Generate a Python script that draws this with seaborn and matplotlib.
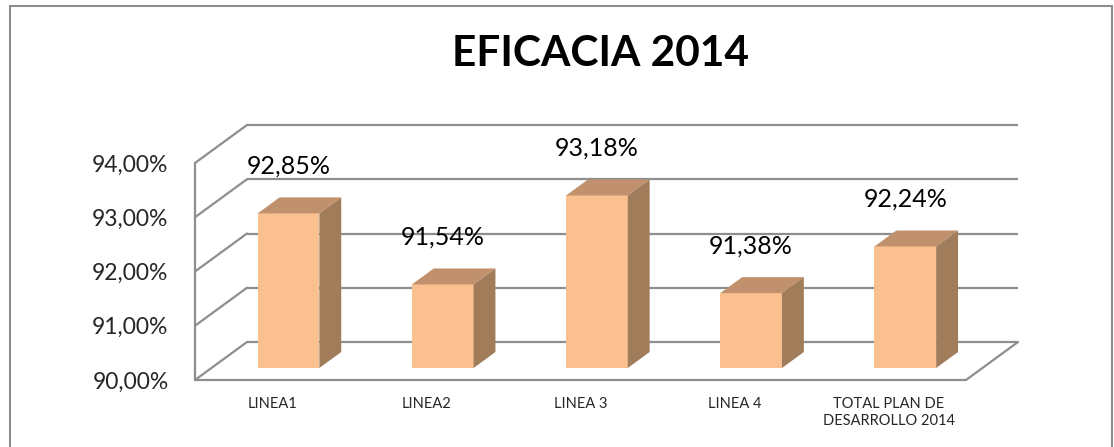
import matplotlib
matplotlib.use('Agg')
import matplotlib.pyplot as plt
import seaborn as sns
from matplotlib.patches import Polygon, Rectangle

categories = ['LINEA1', 'LINEA2', 'LINEA 3', 'LINEA 4', 'TOTAL PLAN DE\nDESARROLLO 2014']
values = [92.85, 91.54, 93.18, 91.38, 92.24]
y_ticks = [90, 91, 92, 93, 94]
title = 'EFICACIA 2014'

FRONT = '#FAC090'
TOP = '#C0916C'
SIDE = '#A07C5A'
GRID = '#8E8E8E'

# fake 3D: depth offset in data units, bar sits between depth D1 and D2
DX, DY = 0.337, 0.70
D1, D2 = 0.316, 0.737

sns.set_style('white')
plt.rcParams['font.family'] = ['Lato', 'DejaVu Sans']

W, H = 1114, 447
fig = plt.figure(figsize=(W / 100, H / 100), dpi=100)
ax = fig.add_axes([195 / W, (H - 380) / H, 771 / W, 217 / H])

sns.barplot(x=categories, y=values, ax=ax, color=FRONT, width=0.4,
            saturation=1, linewidth=0, zorder=3)
ax.set_xlim(-0.5, len(categories) - 0.5)
ax.set_ylim(y_ticks[0], y_ticks[-1])
base = y_ticks[0]
x_left, x_right = -0.5, len(categories) - 0.5

# walls and gridlines
for v in y_ticks:
    ax.plot([x_left + DX, x_right + DX], [v + DY, v + DY], color=GRID, lw=1.6,
            clip_on=False, zorder=1, solid_capstyle='butt')
    ax.plot([x_left, x_left + DX], [v, v + DY], color=GRID, lw=1.6,
            clip_on=False, zorder=1)
ax.plot([x_left, x_left], [base, y_ticks[-1]], color=GRID, lw=1.6, clip_on=False, zorder=1)
ax.plot([x_left, x_right, x_right + DX], [base, base, base + DY], color=GRID, lw=1.6,
        clip_on=False, zorder=1)

dd = D2 - D1
for i, (patch, val) in enumerate(zip(ax.patches, values)):
    x0 = patch.get_x() + D1 * DX
    w = patch.get_width()
    x1 = x0 + w
    bottom = base + D1 * DY
    top = val + D1 * DY
    patch.set_x(x0)
    patch.set_y(bottom)
    patch.set_height(val - base)
    patch.set_clip_on(False)
    ax.add_patch(Polygon([(x0, top), (x1, top), (x1 + dd * DX, top + dd * DY),
                          (x0 + dd * DX, top + dd * DY)], closed=True,
                         facecolor=TOP, edgecolor='none', clip_on=False, zorder=3))
    ax.add_patch(Polygon([(x1, bottom), (x1, top), (x1 + dd * DX, top + dd * DY),
                          (x1 + dd * DX, bottom + dd * DY)], closed=True,
                         facecolor=SIDE, edgecolor='none', clip_on=False, zorder=3))
    label = f'{val:.2f}%'.replace('.', ',')
    ax.text(x0 + w / 2, top + 0.87, label, ha='center', va='center',
            fontsize=18, color='black', zorder=4, clip_on=False)

ax.set_yticks(y_ticks)
ax.set_yticklabels([f'{v:.2f}%'.replace('.', ',') for v in y_ticks], fontsize=16.5)
ax.tick_params(axis='y', length=0, pad=19)
ax.tick_params(axis='x', length=0, pad=12, labelsize=10.5)
for t in ax.get_xticklabels():
    t.set_linespacing(1.3)
ax.set_xlabel('')
ax.set_ylabel('')
for s in ax.spines.values():
    s.set_visible(False)
ax.patch.set_alpha(0)

fig.text(601 / W, 1 - 54 / H, title, ha='center', va='center',
         fontsize=30.5, fontweight='bold', color='black')

fig.add_artist(Rectangle((10 / W, -0.02), 1102 / W, (H - 6) / H + 0.02,
                         transform=fig.transFigure, fill=False,
                         edgecolor='#8C8C8C', lw=1.5))

fig.savefig('out.png', dpi=100, facecolor='white')
